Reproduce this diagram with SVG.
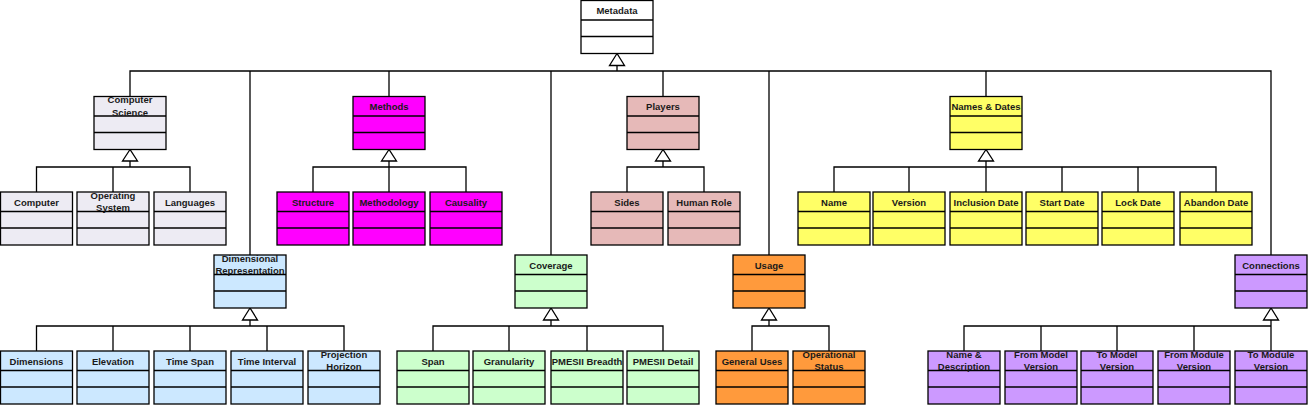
<svg xmlns="http://www.w3.org/2000/svg" width="1308" height="405" viewBox="0 0 1308 405">
<style>
.b{stroke:#000;stroke-width:1.3}
.d{stroke:#000;stroke-width:1.3}
.t{font-family:"Liberation Sans",Arial,sans-serif;font-weight:bold;font-size:9.5px;fill:#1a1a1a;text-anchor:middle}
.c{fill:none;stroke:#000;stroke-width:1.3}
.tri{fill:#fff;stroke:#000;stroke-width:1.3}
.w{fill:#fff}.cs{fill:#EDEBF3}.mt{fill:#FF00FF}.pl{fill:#E6B9B8}.nd{fill:#FFFF66}
.dr{fill:#CCE8FF}.cv{fill:#CCFFCC}.us{fill:#FF9A3C}.cn{fill:#CC99FF}
</style>
<defs>
<g id="frame"><line class="d" x1="0" y1="19.5" x2="72" y2="19.5"/><line class="d" x1="0" y1="36" x2="72" y2="36"/></g>
</defs>
<g id="connectors">
<path class="c" d="M130,96.5V71H1271V255M250,71V255M389,71V96.5M551,71V255M663,71V96.5M769,71V255M986,71V96.5M617,65.5V71"/>
<polygon class="tri" points="617,53.5 609.5,65.5 624.5,65.5"/>
<!-- Computer Science -->
<path class="c" d="M130,161V167M36.5,192V167H190V192M113,167V192"/>
<polygon class="tri" points="130,149.5 122.5,161 137.5,161"/>
<!-- Methods -->
<path class="c" d="M389,161V167M313,192V167H466V192M389,167V192"/>
<polygon class="tri" points="389,149.5 381.5,161 396.5,161"/>
<!-- Players -->
<path class="c" d="M663,161V167M627,192V167H704V192"/>
<polygon class="tri" points="663,149.5 655.5,161 670.5,161"/>
<!-- Names & Dates -->
<path class="c" d="M986,161V167M834,192V167H1216V192M909,167V192M986,167V192M1062,167V192M1138,167V192"/>
<polygon class="tri" points="986,149.5 978.5,161 993.5,161"/>
<!-- Dimensional Representation -->
<path class="c" d="M250,320V326M36.5,351V326H344V351M113,326V351M190,326V351M267,326V351"/>
<polygon class="tri" points="250,308 242.5,320 257.5,320"/>
<!-- Coverage -->
<path class="c" d="M551,320V326M433,351V326H663V351M509,326V351M587,326V351"/>
<polygon class="tri" points="551,308 543.5,320 558.5,320"/>
<!-- Usage -->
<path class="c" d="M769,320V326M752,351V326H829V351"/>
<polygon class="tri" points="769,308 761.5,320 776.5,320"/>
<!-- Connections -->
<path class="c" d="M1271,320V351M964,351V326H1271M1041,326V351M1117,326V351M1194,326V351"/>
<polygon class="tri" points="1271,308 1263.5,320 1278.5,320"/>
</g>

<g id="metadata" transform="translate(581,0.5)"><rect class="b w" width="72" height="53"/><use href="#frame"/><text class="t" x="36" y="13.5">Metadata</text></g>

<g id="computer-science" transform="translate(94,96.5)"><rect class="b cs" width="72" height="53"/><use href="#frame"/><text class="t" x="36" y="6.5">Computer</text><text class="t" x="36" y="19">Science</text></g>
<g id="computer" transform="translate(0.5,192)"><rect class="b cs" width="72" height="53"/><use href="#frame"/><text class="t" x="36" y="13.5">Computer</text></g>
<g id="operating-system" transform="translate(77,192)"><rect class="b cs" width="72" height="53"/><use href="#frame"/><text class="t" x="36" y="6.5">Operating</text><text class="t" x="36" y="19">System</text></g>
<g id="languages" transform="translate(154,192)"><rect class="b cs" width="72" height="53"/><use href="#frame"/><text class="t" x="36" y="13.5">Languages</text></g>

<g id="methods" transform="translate(353,96.5)"><rect class="b mt" width="72" height="53"/><use href="#frame"/><text class="t" x="36" y="13.5">Methods</text></g>
<g id="structure" transform="translate(277,192)"><rect class="b mt" width="72" height="53"/><use href="#frame"/><text class="t" x="36" y="13.5">Structure</text></g>
<g id="methodology" transform="translate(353,192)"><rect class="b mt" width="72" height="53"/><use href="#frame"/><text class="t" x="36" y="13.5">Methodology</text></g>
<g id="causality" transform="translate(430,192)"><rect class="b mt" width="72" height="53"/><use href="#frame"/><text class="t" x="36" y="13.5">Causality</text></g>

<g id="players" transform="translate(627,96.5)"><rect class="b pl" width="72" height="53"/><use href="#frame"/><text class="t" x="36" y="13.5">Players</text></g>
<g id="sides" transform="translate(591,192)"><rect class="b pl" width="72" height="53"/><use href="#frame"/><text class="t" x="36" y="13.5">Sides</text></g>
<g id="human-role" transform="translate(668,192)"><rect class="b pl" width="72" height="53"/><use href="#frame"/><text class="t" x="36" y="13.5">Human Role</text></g>

<g id="names-dates" transform="translate(950,96.5)"><rect class="b nd" width="72" height="53"/><use href="#frame"/><text class="t" x="36" y="13.5">Names &amp; Dates</text></g>
<g id="name" transform="translate(798,192)"><rect class="b nd" width="72" height="53"/><use href="#frame"/><text class="t" x="36" y="13.5">Name</text></g>
<g id="version" transform="translate(873,192)"><rect class="b nd" width="72" height="53"/><use href="#frame"/><text class="t" x="36" y="13.5">Version</text></g>
<g id="inclusion-date" transform="translate(950,192)"><rect class="b nd" width="72" height="53"/><use href="#frame"/><text class="t" x="36" y="13.5">Inclusion Date</text></g>
<g id="start-date" transform="translate(1026,192)"><rect class="b nd" width="72" height="53"/><use href="#frame"/><text class="t" x="36" y="13.5">Start Date</text></g>
<g id="lock-date" transform="translate(1102,192)"><rect class="b nd" width="72" height="53"/><use href="#frame"/><text class="t" x="36" y="13.5">Lock Date</text></g>
<g id="abandon-date" transform="translate(1180,192)"><rect class="b nd" width="72" height="53"/><use href="#frame"/><text class="t" x="36" y="13.5">Abandon Date</text></g>

<g id="dimensional-representation" transform="translate(214,255)"><rect class="b dr" width="72" height="53"/><use href="#frame"/><text class="t" x="36" y="6.5">Dimensional</text><text class="t" x="36" y="19">Representation</text></g>
<g id="dimensions" transform="translate(0.5,351)"><rect class="b dr" width="72" height="53"/><use href="#frame"/><text class="t" x="36" y="13.5">Dimensions</text></g>
<g id="elevation" transform="translate(77,351)"><rect class="b dr" width="72" height="53"/><use href="#frame"/><text class="t" x="36" y="13.5">Elevation</text></g>
<g id="time-span" transform="translate(154,351)"><rect class="b dr" width="72" height="53"/><use href="#frame"/><text class="t" x="36" y="13.5">Time Span</text></g>
<g id="time-interval" transform="translate(231,351)"><rect class="b dr" width="72" height="53"/><use href="#frame"/><text class="t" x="36" y="13.5">Time Interval</text></g>
<g id="projection-horizon" transform="translate(308,351)"><rect class="b dr" width="72" height="53"/><use href="#frame"/><text class="t" x="36" y="6.5">Projection</text><text class="t" x="36" y="19">Horizon</text></g>

<g id="coverage" transform="translate(515,255)"><rect class="b cv" width="72" height="53"/><use href="#frame"/><text class="t" x="36" y="13.5">Coverage</text></g>
<g id="span" transform="translate(397,351)"><rect class="b cv" width="72" height="53"/><use href="#frame"/><text class="t" x="36" y="13.5">Span</text></g>
<g id="granularity" transform="translate(473,351)"><rect class="b cv" width="72" height="53"/><use href="#frame"/><text class="t" x="36" y="13.5">Granularity</text></g>
<g id="pmesii-breadth" transform="translate(551,351)"><rect class="b cv" width="72" height="53"/><use href="#frame"/><text class="t" x="36" y="13.5">PMESII Breadth</text></g>
<g id="pmesii-detail" transform="translate(627,351)"><rect class="b cv" width="72" height="53"/><use href="#frame"/><text class="t" x="36" y="13.5">PMESII Detail</text></g>

<g id="usage" transform="translate(733,255)"><rect class="b us" width="72" height="53"/><use href="#frame"/><text class="t" x="36" y="13.5">Usage</text></g>
<g id="general-uses" transform="translate(716,351)"><rect class="b us" width="72" height="53"/><use href="#frame"/><text class="t" x="36" y="13.5">General Uses</text></g>
<g id="operational-status" transform="translate(793,351)"><rect class="b us" width="72" height="53"/><use href="#frame"/><text class="t" x="36" y="6.5">Operational</text><text class="t" x="36" y="19">Status</text></g>

<g id="connections" transform="translate(1235,255)"><rect class="b cn" width="72" height="53"/><use href="#frame"/><text class="t" x="36" y="13.5">Connections</text></g>
<g id="name-description" transform="translate(928,351)"><rect class="b cn" width="72" height="53"/><use href="#frame"/><text class="t" x="36" y="6.5">Name &amp;</text><text class="t" x="36" y="19">Description</text></g>
<g id="from-model-version" transform="translate(1005,351)"><rect class="b cn" width="72" height="53"/><use href="#frame"/><text class="t" x="36" y="6.5">From Model</text><text class="t" x="36" y="19">Version</text></g>
<g id="to-model-version" transform="translate(1081,351)"><rect class="b cn" width="72" height="53"/><use href="#frame"/><text class="t" x="36" y="6.5">To Model</text><text class="t" x="36" y="19">Version</text></g>
<g id="from-module-version" transform="translate(1158,351)"><rect class="b cn" width="72" height="53"/><use href="#frame"/><text class="t" x="36" y="6.5">From Module</text><text class="t" x="36" y="19">Version</text></g>
<g id="to-module-version" transform="translate(1235,351)"><rect class="b cn" width="72" height="53"/><use href="#frame"/><text class="t" x="36" y="6.5">To Module</text><text class="t" x="36" y="19">Version</text></g>
</svg>
